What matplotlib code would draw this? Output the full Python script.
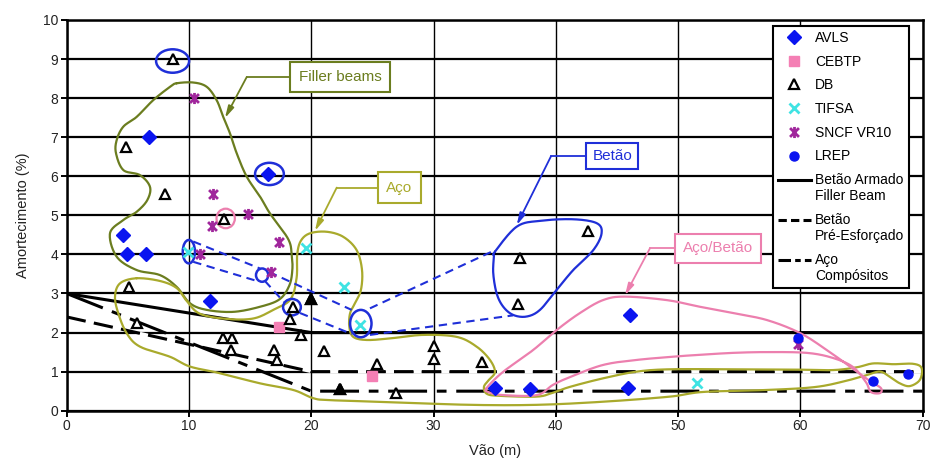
import numpy as np
import matplotlib
matplotlib.use("Agg")
import matplotlib.pyplot as plt
from matplotlib.path import Path
from matplotlib.patches import Ellipse
from matplotlib.lines import Line2D
from matplotlib.legend_handler import HandlerLine2D

plt.rcParams["font.family"] = ["Liberation Sans", "DejaVu Sans"]
plt.rcParams["lines.scale_dashes"] = False

# ---------------- measured damping data (span m, damping %) ----------------
avls_x = [4.6, 4.9, 6.5, 6.7, 11.7, 16.5, 35.0, 37.9, 46.1, 45.9]
avls_y = [4.5, 4.0, 4.0, 7.0, 2.8, 6.05, 0.58, 0.55, 2.45, 0.58]

cebtp_x = [17.4, 25.0]
cebtp_y = [2.15, 0.9]

db_x = [8.67, 4.85, 8.06, 12.89, 5.09, 5.77, 18.53, 19.95, 18.26, 19.16, 21.06,
        12.76, 13.49, 13.41, 16.95, 17.17, 22.35, 37.06, 42.65, 36.88, 30.06,
        30.06, 33.93, 25.35, 26.93]
db_y = [8.99, 6.74, 5.55, 4.91, 3.16, 2.25, 2.65, 2.85, 2.34, 1.94, 1.54,
        1.85, 1.85, 1.55, 1.55, 1.30, 0.56, 3.92, 4.61, 2.72, 1.66,
        1.32, 1.24, 1.20, 0.46]
db_filled = [False, False, False, False, False, False, False, True, False, False, False,
             False, False, False, False, False, True, False, False, False, False,
             False, False, False, False]

tifsa_x = [9.94, 19.57, 22.70, 24.0, 51.56]
tifsa_y = [4.07, 4.16, 3.17, 2.19, 0.70]

sncf_x = [10.41, 11.99, 11.91, 14.80, 17.38, 10.90, 16.68, 59.82]
sncf_y = [8.00, 5.55, 4.74, 5.03, 4.33, 4.01, 3.55, 1.71]

lrep_x = [59.82, 65.95, 68.82]
lrep_y = [1.87, 0.76, 0.93]

# design curves
betao_armado_x = [0, 20, 70]
betao_armado_y = [3.0, 2.0, 2.0]
pre_esforcado_x = [0, 20, 70]
pre_esforcado_y = [2.4, 1.0, 1.0]
aco_comp_x = [0, 20, 70]
aco_comp_y = [3.0, 0.5, 0.5]

x_ticks = [0, 10, 20, 30, 40, 50, 60, 70]
y_ticks = [0, 1, 2, 3, 4, 5, 6, 7, 8, 9, 10]

legend_labels = ["AVLS", "CEBTP", "DB", "TIFSA", "SNCF VR10", "LREP",
                 "Betão Armado\nFiller Beam", "Betão\nPré-Esforçado", "Aço\nCompósitos"]

# ---------------- hand-drawn group outlines (data coordinates) ----------------
filler_outline_x = [8.99, 10.35, 11.45, 12.26, 12.80, 13.35, 13.90, 14.72, 15.81, 16.62,
                    18.1, 18.4, 18.45, 18.2, 17.4, 15.81, 13.62, 11.45, 10.08, 8.99,
                    7.63, 5.72, 4.09, 3.54, 4.63, 5.72, 6.59, 6.81, 5.99, 4.63,
                    4.03, 4.09, 4.63, 5.72, 7.08, 8.45]
filler_outline_y = [8.38, 8.40, 8.29, 7.95, 7.52, 7.10, 6.59, 5.99, 5.48, 5.05,
                    4.4, 4.0, 3.6, 3.2, 2.85, 2.66, 2.53, 2.58, 2.75, 3.17,
                    3.47, 3.60, 3.94, 4.54, 4.88, 5.09, 5.39, 5.73, 6.03, 6.16,
                    6.59, 6.93, 7.27, 7.52, 7.95, 8.29]

aco_outline_x = [5.72, 7.63, 8.99, 9.81, 10.90, 13.08, 15.26, 16.89, 18.3, 18.8,
                 18.85, 19.15, 19.89, 21.26, 22.62, 23.71, 24.15, 24.06, 23.57, 23.17,
                 23.11, 23.43, 24.53, 26.43, 29.16, 31.89, 33.52, 34.61, 35.02, 34.53,
                 34.12, 34.37, 35.43, 38.43, 39.66, 41.15, 43.88, 46.61, 49.33, 54.24,
                 59.96, 62.68, 64.60, 65.95, 67.59, 69.22, 69.91, 69.77, 68.95, 68.13,
                 67.31, 66.5, 65.41, 64.05, 61.32, 57.24, 52.05, 49.33, 43.88, 38.43,
                 32.98, 26.43, 21.53, 20.16, 18.53, 15.81, 12.54, 10.08, 8.45, 5.99,
                 4.91, 4.22, 3.95, 4.36]
aco_outline_y = [3.39, 3.32, 3.14, 2.81, 2.48, 2.35, 2.36, 2.58, 2.85, 3.4,
                 4.0, 4.35, 4.54, 4.58, 4.45, 4.11, 3.60, 3.09, 2.75, 2.49,
                 2.15, 1.89, 1.81, 1.85, 1.94, 1.89, 1.64, 1.30, 0.99, 0.79,
                 0.61, 0.43, 0.38, 0.36, 0.45, 0.61, 0.83, 1.0, 1.06, 1.06,
                 1.05, 1.04, 1.11, 1.21, 1.19, 1.20, 1.09, 0.79, 0.63, 0.70,
                 0.87, 1.0, 0.91, 0.79, 0.61, 0.53, 0.48, 0.36, 0.23, 0.15,
                 0.15, 0.22, 0.27, 0.32, 0.53, 0.70, 0.96, 1.13, 1.38, 1.64,
                 1.98, 2.49, 2.92, 3.26]

mixed_outline_x = [34.34, 35.67, 38.13, 40.09, 41.97, 43.85, 45.65, 49.09, 51.78, 54.48,
                   57.26, 59.96, 62.17, 64.05, 65.68, 66.58, 66.5, 65.76, 65.36, 64.29,
                   62.66, 60.53, 57.26, 54.48, 51.78, 49.90, 46.63, 43.85, 41.15, 39.76,
                   38.45, 35.67, 34.45]
mixed_outline_y = [0.58, 0.99, 1.55, 2.07, 2.50, 2.83, 2.92, 2.83, 2.66, 2.50,
                   2.32, 1.99, 1.55, 1.13, 0.76, 0.58, 0.45, 0.48, 0.73, 1.12,
                   1.35, 1.48, 1.50, 1.48, 1.43, 1.39, 1.30, 1.17, 0.86, 0.66,
                   0.40, 0.40, 0.48]

concrete_blob_x = [35.02, 36.8, 38.7, 41.42, 43.34, 43.74, 43.06, 41.42, 40.06, 38.7,
                   37.61, 36.52, 35.7, 35.16, 34.88, 34.94]
concrete_blob_y = [4.07, 4.71, 4.86, 4.9, 4.8, 4.54, 4.11, 3.60, 3.09, 2.58,
                   2.41, 2.45, 2.66, 3.0, 3.52, 3.94]

# rings around individual concrete points: (cx, cy, width, height)
concrete_rings = [(8.66, 8.95, 2.7, 0.6), (16.58, 6.06, 2.35, 0.57),
                  (9.99, 4.07, 1.0, 0.6), (15.98, 3.47, 1.0, 0.34),
                  (18.42, 2.65, 1.45, 0.42), (24.05, 2.23, 1.75, 0.7)]
pink_ring = (13.0, 4.92, 1.5, 0.5)

# dashed links joining the concrete group
concrete_links = [
    ([10.35, 15.8], [4.33, 3.64]),
    ([16.55, 23.3], [3.55, 2.58]),
    ([10.35, 15.56], [3.81, 3.32]),
    ([16.21, 17.77], [3.32, 2.78]),
    ([19.08, 23.33], [2.50, 1.96]),
    ([24.8, 35.1], [2.62, 4.12]),
    ([24.8, 36.5], [1.94, 2.44]),
]

OLIVE = "#6b7d1f"
YELLOW_OLIVE = "#a9aa2c"
BLUE = "#1f2fd8"
PINK = "#ec7fae"


def closed_spline(xs, ys, n=16):
    """Closed Catmull-Rom curve through the given vertices."""
    pts = np.column_stack([xs, ys])
    m = len(pts)
    t = np.linspace(0, 1, n, endpoint=False)[:, None]
    segs = []
    for i in range(m):
        p0, p1, p2, p3 = pts[(i - 1) % m], pts[i], pts[(i + 1) % m], pts[(i + 2) % m]
        seg = 0.5 * (2 * p1 + (-p0 + p2) * t + (2 * p0 - 5 * p1 + 4 * p2 - p3) * t ** 2
                     + (-p0 + 3 * p1 - 3 * p2 + p3) * t ** 3)
        segs.append(seg)
    out = np.vstack(segs + [pts[:1]])
    return out[:, 0], out[:, 1]


class FirstLineHandler(HandlerLine2D):
    """Line handle raised to sit beside the first line of a two-line label."""

    def __init__(self, shift, **kw):
        super().__init__(**kw)
        self.shift = shift

    def create_artists(self, legend, orig_handle, xdescent, ydescent, width, height,
                       fontsize, trans):
        arts = super().create_artists(legend, orig_handle, xdescent, ydescent, width,
                                      height, fontsize, trans)
        for a in arts:
            a.set_ydata(np.asarray(a.get_ydata(), dtype=float) + self.shift)
        return arts


fig = plt.figure(figsize=(9.35, 4.59), dpi=100)
ax = fig.add_axes([0.07134, 0.10523, 0.91551, 0.85120])
ax.set_xlim(0, 70)
ax.set_ylim(0, 10)
ax.set_xticks(x_ticks)
ax.set_yticks(y_ticks)
ax.set_axisbelow(True)
ax.xaxis.grid(True, color="black", lw=1.0)
ax.yaxis.grid(True, color="black", lw=1.6)
for sp in ax.spines.values():
    sp.set_linewidth(1.8)
ax.tick_params(direction="out", length=4, width=1.4, labelsize=10, colors="black",
               labelcolor="#222222", pad=2)
ax.set_xlabel("Vão (m)", fontsize=10.5, color="#222222", labelpad=8)
ax.set_ylabel("Amortecimento (%)", fontsize=10.5, color="#222222", labelpad=9.5)

# design curves
ax.plot(betao_armado_x, betao_armado_y, color="black", lw=2.2, zorder=3)
ax.plot(pre_esforcado_x, pre_esforcado_y, color="black", lw=2.2, dashes=(14, 6),
        gapcolor="white", zorder=3)
ax.plot(aco_comp_x, aco_comp_y, color="black", lw=2.2, dashes=(28, 7, 7, 7), zorder=3)

# group outlines
for xs, ys, col in [(filler_outline_x, filler_outline_y, OLIVE),
                    (aco_outline_x, aco_outline_y, YELLOW_OLIVE),
                    (mixed_outline_x, mixed_outline_y, PINK),
                    (concrete_blob_x, concrete_blob_y, BLUE)]:
    sx, sy = closed_spline(xs, ys)
    ax.plot(sx, sy, color=col, lw=1.6, zorder=4, solid_capstyle="round")

for cx, cy, w, h in concrete_rings:
    ax.add_patch(Ellipse((cx, cy), w, h, fill=False, ec=BLUE, lw=1.8, zorder=4))
ax.add_patch(Ellipse(pink_ring[:2], pink_ring[2], pink_ring[3], fill=False, ec=PINK,
                     lw=1.6, zorder=4))
for lx, ly in concrete_links:
    ax.plot(lx, ly, color=BLUE, lw=1.5, dashes=(6, 4), zorder=4)

# callout labels with elbow arrows
callouts = [
    ("Filler beams", (22.35, 8.54), (14.72, 8.54), (12.94, 7.49), OLIVE, 11, 0.55),
    ("Aço", (27.2, 5.71), (22.08, 5.71), (20.3, 4.6), YELLOW_OLIVE, 11, 0.55),
    ("Betão", (44.63, 6.51), (39.6, 6.51), (36.8, 4.75), BLUE, 11, 0.4),
    ("Aço/Betão", (53.25, 4.16), (47.7, 4.16), (45.65, 2.95), PINK, 11, 0.5),
]
for text, (tx, ty), (ex, ey), (px, py), col, fs, pad in callouts:
    ax.plot([tx, ex], [ty, ey], color=col, lw=1.3, zorder=5)
    ax.annotate("", xy=(px, py), xytext=(ex, ey),
                arrowprops=dict(arrowstyle="-|>,head_length=0.7,head_width=0.18",
                                color=col, lw=1.3, shrinkA=0, shrinkB=0), zorder=5)
    ax.text(tx, ty, text, ha="center", va="center", fontsize=fs, color=col, zorder=6,
            bbox=dict(boxstyle=f"square,pad={pad}", fc="white", ec=col, lw=1.5))

# data points
star = Path([(-1, -1), (1, 1), (-1, 1), (1, -1), (0, -1.25), (0, 1.25)],
            [Path.MOVETO, Path.LINETO] * 3)

h_avls, = ax.plot(avls_x, avls_y, ls="none", marker="D", ms=7.5, color="#0a14f0", zorder=7)
h_cebtp, = ax.plot(cebtp_x, cebtp_y, ls="none", marker="s", ms=7, color="#f47fb4", zorder=7)
h_db, = ax.plot(db_x, db_y, ls="none", marker="^", ms=7, mfc="white", mec="black",
                mew=1.6, zorder=7)
fx = [x for x, f in zip(db_x, db_filled) if f]
fy = [y for y, f in zip(db_y, db_filled) if f]
ax.plot(fx, fy, ls="none", marker="^", ms=7, mfc="black", mec="black", mew=1.6, zorder=7)
h_tifsa, = ax.plot(tifsa_x, tifsa_y, ls="none", marker="x", ms=6.5, mew=2.0,
                   color="#3fe3e3", zorder=7)
h_sncf, = ax.plot(sncf_x, sncf_y, ls="none", marker=star, ms=8, mew=2.0,
                  color="#a0269c", zorder=7)
h_lrep, = ax.plot(lrep_x, lrep_y, ls="none", marker="o", ms=6.5, color="#0a14f0", zorder=7)

p1 = Line2D([], [], color="black", lw=2.2)
p2 = Line2D([], [], color="black", lw=2.2, dashes=(6, 3))
p3 = Line2D([], [], color="black", lw=2.2, dashes=(9, 3, 4, 3))
raise_handle = FirstLineHandler(6.5)

leg = ax.legend([h_avls, h_cebtp, h_db, h_tifsa, h_sncf, h_lrep, p1, p2, p3], legend_labels,
                loc="upper left", bbox_to_anchor=(0.8248, 0.9846), frameon=True,
                fancybox=False, framealpha=1, edgecolor="black", fontsize=10,
                handlelength=2.4, handletextpad=0.3, labelspacing=0.7,
                borderpad=0.35, borderaxespad=0,
                handler_map={p1: raise_handle, p2: raise_handle, p3: raise_handle})
leg.get_frame().set_linewidth(1.5)
leg.set_zorder(10)

fig.savefig("out.png", dpi=100)
